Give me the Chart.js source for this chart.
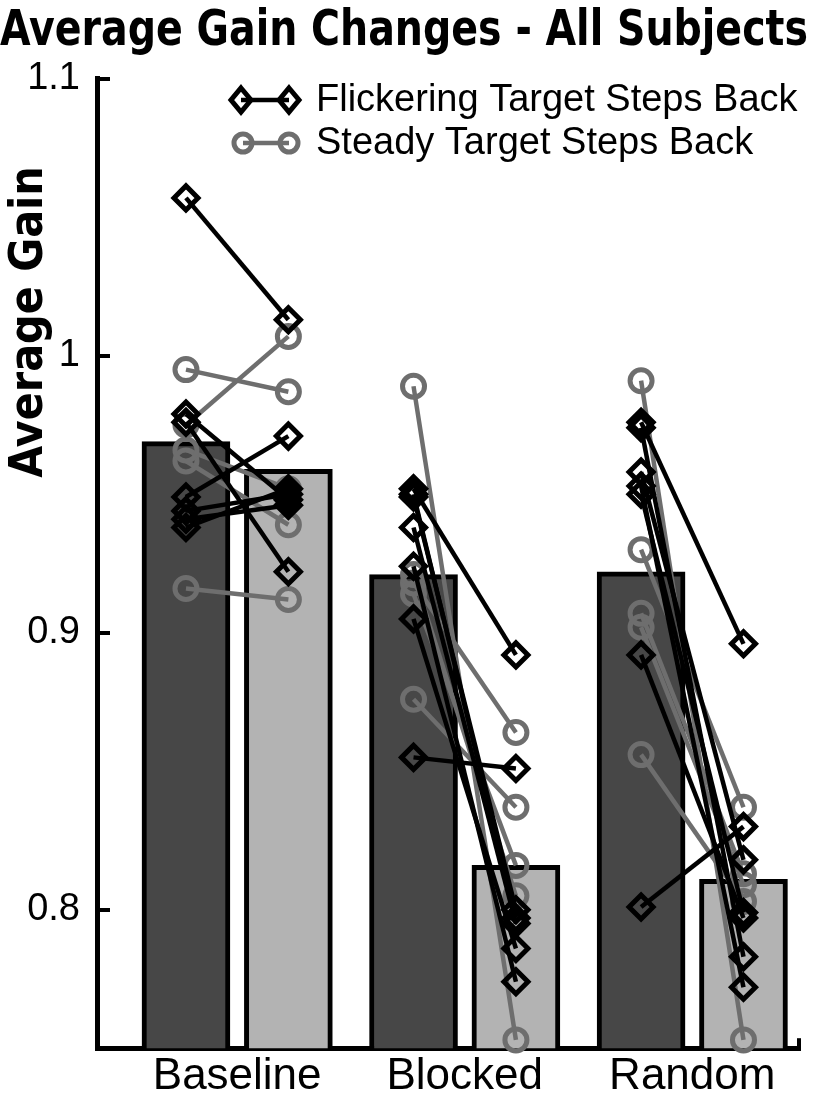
<!DOCTYPE html>
<html>
<head>
<meta charset="utf-8">
<script src="https://cdn.jsdelivr.net/npm/chart.js@4.4.1/dist/chart.umd.min.js"></script>
<style>
    html, body { margin: 0; padding: 0; background: #fff; }
</style>
</head>
<body>
<canvas id="graficoGanancia" width="816" height="1101"></canvas>
<script>
const categories = ["Baseline", "Blocked", "Random"];
const yTicks = [0.8, 0.9, 1, 1.1];

// group means (dark = left bar, light = right bar)
const meanLeft = [0.969, 0.921, 0.922];
const meanRight = [0.959, 0.816, 0.811];

// flickering target, one entry per subject (left point -> right point)
const flickBaseL = [1.057, 0.979, 0.976, 0.949, 0.944, 0.941, 0.938];
const flickBaseR = [1.013, 0.948, 0.922, 0.971, 0.950, 0.946, 0.952];
const flickBlockL = [0.952, 0.950, 0.949, 0.938, 0.924, 0.905, 0.855];
const flickBlockR = [0.892, 0.797, 0.800, 0.795, 0.774, 0.786, 0.851];
const flickRandL = [0.976, 0.974, 0.958, 0.953, 0.950, 0.892, 0.801];
const flickRandR = [0.896, 0.783, 0.818, 0.772, 0.799, 0.797, 0.830];

// steady target
const steadyBaseL = [0.995, 0.975, 0.966, 0.962, 0.916];
const steadyBaseR = [0.987, 1.007, 0.952, 0.939, 0.912];
const steadyBlockL = [0.989, 0.921, 0.918, 0.914, 0.876];
const steadyBlockR = [0.753, 0.805, 0.864, 0.816, 0.837];
const steadyRandL = [0.991, 0.930, 0.907, 0.902, 0.856];
const steadyRandR = [0.753, 0.837, 0.813, 0.809, 0.803];

const legendLabels = ["Flickering Target Steps Back", "Steady Target Steps Back"];

const NARROW = "'Liberation Sans Narrow', 'DejaVu Sans Condensed', 'Liberation Sans', sans-serif";
const SANS = "'Liberation Sans', Arial, sans-serif";
const GRAY = "#6e6e6e";
const OFF = 0.225;

function subjectLines(left, right, group, color, style, radius, order) {
    return left.map((v, i) => ({
        type: "line",
        data: [
            { x: group - OFF, y: v },
            { x: group + OFF, y: right[i] },
        ],
        borderColor: color,
        borderWidth: 4.5,
        pointStyle: style,
        pointRadius: radius,
        pointBorderWidth: 5,
        pointBorderColor: color,
        pointBackgroundColor: "rgba(0,0,0,0)",
        clip: false,
        order: order,
    }));
}

const datasets = [
    {
        type: "bar",
        data: meanLeft.map((v, i) => ({ x: i + 1 - OFF, y: v })),
        backgroundColor: "#474747",
        borderColor: "#000",
        borderWidth: 5,
        barThickness: 88,
        grouped: false,
        order: 10,
    },
    {
        type: "bar",
        data: meanRight.map((v, i) => ({ x: i + 1 + OFF, y: v })),
        backgroundColor: "#b3b3b3",
        borderColor: "#000",
        borderWidth: 5,
        barThickness: 88,
        grouped: false,
        order: 10,
    },
]
    .concat(subjectLines(steadyBaseL, steadyBaseR, 1, GRAY, "circle", 11, 2))
    .concat(subjectLines(steadyBlockL, steadyBlockR, 2, GRAY, "circle", 11, 2))
    .concat(subjectLines(steadyRandL, steadyRandR, 3, GRAY, "circle", 11, 2))
    .concat(subjectLines(flickBaseL, flickBaseR, 1, "#000", "rectRot", 12, 1))
    .concat(subjectLines(flickBlockL, flickBlockR, 2, "#000", "rectRot", 12, 1))
    .concat(subjectLines(flickRandL, flickRandR, 3, "#000", "rectRot", 12, 1));

// legend with a marker at both ends of the line, plus the rotated y title
const pairLegend = {
    id: "pairLegend",
    afterDraw(chart) {
        const c = chart.ctx;
        c.save();
        c.fillStyle = "#000";
        c.font = "bold 46px " + NARROW;
        c.textAlign = "center";
        c.textBaseline = "middle";
        c.translate(30, 322);
        c.rotate(-Math.PI / 2);
        c.fillText("Average Gain", 0, 0);
        c.restore();

        const rows = [
            { y: 100, color: "#000", style: "diamond", x1: 241, x2: 289 },
            { y: 143, color: GRAY, style: "circle", x1: 243, x2: 289 },
        ];
        rows.forEach((r, i) => {
            c.save();
            c.strokeStyle = r.color;
            c.lineWidth = 4.5;
            c.beginPath();
            c.moveTo(r.x1, r.y);
            c.lineTo(r.x2, r.y);
            c.stroke();
            c.lineWidth = 5;
            [r.x1, r.x2].forEach((x) => {
                c.beginPath();
                if (r.style === "diamond") {
                    c.moveTo(x, r.y - 12);
                    c.lineTo(x + 10, r.y);
                    c.lineTo(x, r.y + 12);
                    c.lineTo(x - 10, r.y);
                    c.closePath();
                } else {
                    c.arc(x, r.y, 9, 0, Math.PI * 2);
                }
                c.stroke();
            });
            c.fillStyle = "#000";
            c.font = "38px " + SANS;
            c.textAlign = "left";
            c.textBaseline = "middle";
            c.fillText(legendLabels[i], 316, r.y + 1);
            c.restore();
        });
    },
};

const ctx = document.getElementById("graficoGanancia").getContext("2d");
const chart = new Chart(ctx, {
    type: "bar",
    data: { datasets: datasets },
    options: {
        responsive: false,
        animation: false,
        devicePixelRatio: 1,
        layout: { padding: { left: 0, right: 8, top: 0, bottom: 0 } },
        plugins: {
            legend: { display: false },
            tooltip: { enabled: false },
            title: {
                display: true,
                text: "Average Gain Changes - All Subjects",
                color: "#000",
                font: { family: NARROW, size: 49, weight: "bold" },
                padding: { top: 3, bottom: 17 },
            },
        },
        scales: {
            x: {
                type: "linear",
                offset: false,
                min: 0.384,
                max: 3.469,
                afterBuildTicks: (axis) => {
                    axis.ticks = [1, 2, 3, 3.469].map((v) => ({ value: v }));
                },
                afterFit: (axis) => {
                    axis.height = 49;
                    axis.paddingLeft = 0;
                    axis.paddingRight = 0;
                },
                ticks: {
                    autoSkip: false,
                    maxRotation: 0,
                    color: "#000",
                    font: { family: SANS, size: 44 },
                    padding: 12,
                    callback: (v, i) => categories[i] || "",
                },
                grid: {
                    offset: false,
                    drawOnChartArea: false,
                    drawTicks: true,
                    tickLength: -10,
                    lineWidth: 4,
                    color: (c) => (c.index === 3 ? "#000" : "rgba(0,0,0,0)"),
                },
                border: { display: true, color: "#000", width: 5 },
            },
            y: {
                min: 0.75,
                max: 1.1,
                afterBuildTicks: (axis) => {
                    axis.ticks = yTicks.map((v) => ({ value: v }));
                },
                afterFit: (axis) => {
                    axis.width = 97;
                },
                ticks: {
                    autoSkip: false,
                    color: "#000",
                    font: { family: SANS, size: 38 },
                    padding: 30,
                    callback: (v) => String(v),
                },
                grid: {
                    drawOnChartArea: false,
                    drawTicks: true,
                    tickLength: -13,
                    lineWidth: 4,
                    color: "#000",
                },
                border: { display: true, color: "#000", width: 5 },
            },
        },
    },
    plugins: [pairLegend],
});
</script>
</body>
</html>
